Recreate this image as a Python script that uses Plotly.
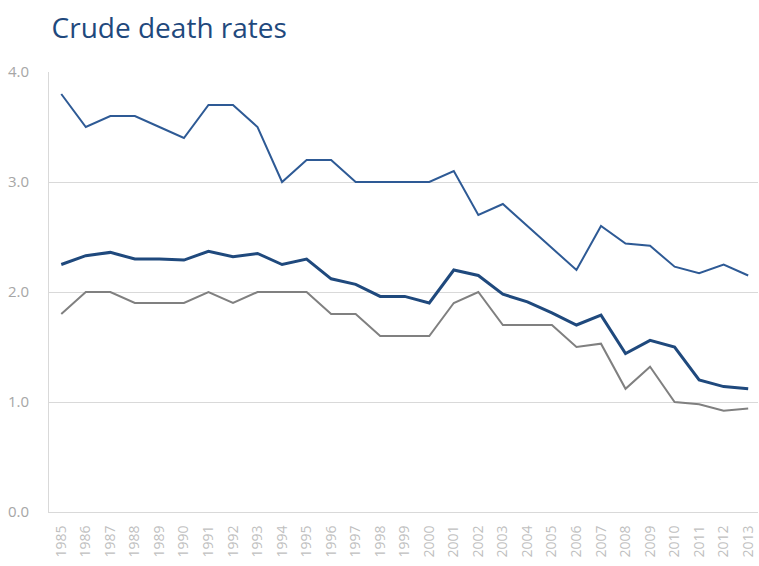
import plotly.graph_objects as go

years = [str(y) for y in range(1985, 2014)]
series_top = [3.8, 3.5, 3.6, 3.6, 3.5, 3.4, 3.7, 3.7, 3.5, 3.0, 3.2, 3.2, 3.0, 3.0, 3.0, 3.0,
              3.1, 2.7, 2.8, 2.6, 2.4, 2.2, 2.6, 2.44, 2.42, 2.23, 2.17, 2.25, 2.15]
series_mid = [2.25, 2.33, 2.36, 2.30, 2.30, 2.29, 2.37, 2.32, 2.35, 2.25, 2.30, 2.12, 2.07, 1.96,
              1.96, 1.90, 2.20, 2.15, 1.98, 1.91, 1.81, 1.70, 1.79, 1.44, 1.56, 1.50, 1.20, 1.14, 1.12]
series_low = [1.8, 2.0, 2.0, 1.9, 1.9, 1.9, 2.0, 1.9, 2.0, 2.0, 2.0, 1.8, 1.8, 1.6, 1.6, 1.6,
              1.9, 2.0, 1.7, 1.7, 1.7, 1.50, 1.53, 1.12, 1.32, 1.00, 0.98, 0.92, 0.94]
y_ticks = [0, 1, 2, 3, 4]

fig = go.Figure()
fig.add_trace(go.Scatter(x=years, y=series_top, mode="lines",
                         line=dict(color="#2e5a95", width=2), showlegend=False))
fig.add_trace(go.Scatter(x=years, y=series_low, mode="lines",
                         line=dict(color="#808080", width=2), showlegend=False))
fig.add_trace(go.Scatter(x=years, y=series_mid, mode="lines",
                         line=dict(color="#1f497d", width=3), showlegend=False))

fig.update_layout(
    width=759, height=566,
    margin=dict(l=49, r=1, t=72, b=54),
    paper_bgcolor="white", plot_bgcolor="white",
    title=dict(text="Crude death rates", x=0.068, xref="container", xanchor="left",
               y=0.95, yanchor="middle", yref="container",
               font=dict(family="Open Sans", size=28, color="#1f497d")),
    font=dict(family="Open Sans", color="#a6a6a6"),
    xaxis=dict(type="category", tickangle=-90, tickfont=dict(size=14, color="#bfbfbf"),
               showgrid=False, showline=True, linecolor="#d9d9d9", linewidth=1,
               ticks="", range=[-0.5, 28.4], automargin=False, ticklabelstandoff=7),
    yaxis=dict(range=[0, 4], tickvals=y_ticks, tickformat=".1f",
               tickfont=dict(size=15, color="#a6a6a6"),
               showgrid=True, gridcolor="#d9d9d9", gridwidth=1,
               showline=True, linecolor="#d9d9d9", linewidth=1,
               zeroline=False, ticks="", ticklabelstandoff=16, automargin=False),
)
fig.write_html("out.html", config={"displayModeBar": False},
               post_script="document.body.style.margin='0';document.body.style.padding='0';")
